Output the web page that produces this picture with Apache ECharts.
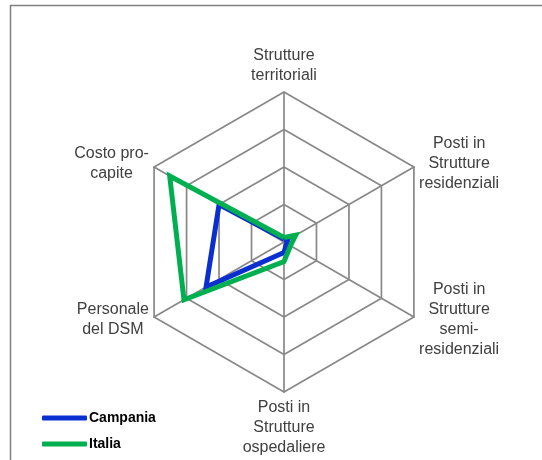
<!DOCTYPE html>
<html>
<head>
<meta charset="utf-8">
<script src="https://cdn.jsdelivr.net/npm/echarts@6/dist/echarts.min.js"></script>
<style>
  html, body { margin: 0; padding: 0; background: #fff; }
  #chart { width: 542px; height: 460px; }
</style>
</head>
<body>
<div id="chart"></div>
<script>
// assi del radar (ordine antiorario, partendo dall'alto)
var indicatori = [
  'Strutture\nterritoriali',
  'Costo pro-\ncapite',
  'Personale\ndel DSM',
  'Posti in\nStrutture\nospedaliere',
  'Posti in\nStrutture\nsemi-\nresidenziali',
  'Posti in\nStrutture\nresidenziali'
];
var valoreMax = 1;
var campania = [0.02, 0.50, 0.60, 0.07, 0.02, 0.03];
var italia = [0.03, 0.88, 0.77, 0.13, 0.05, 0.09];

var myChart = echarts.init(document.getElementById('chart'));

var option = {
  animation: false,
  graphic: [{
    // cornice del grafico (bordo sup. e sinistro visibili)
    type: 'rect',
    left: 8, top: 3,
    shape: { width: 600, height: 500 },
    style: { fill: 'none', stroke: '#808080', lineWidth: 1.5 }
  }],
  legend: {
    orient: 'vertical',
    left: 37,
    top: 406,
    itemWidth: 45,
    itemHeight: 5,
    itemGap: 12,
    icon: 'roundRect',
    textStyle: { fontFamily: 'Liberation Sans', fontWeight: 'bold', fontSize: 14, color: '#000', padding: [0, 0, 0, -3] },
    data: ['Campania', 'Italia']
  },
  radar: {
    center: [284, 242],
    radius: 150,
    shape: 'polygon',
    splitNumber: 4,
    startAngle: 90,
    axisNameGap: 6,
    indicator: indicatori.map(function (n) { return { name: n, min: 0, max: valoreMax }; }),
    axisName: {
      color: '#404040',
      fontFamily: 'Liberation Sans',
      fontSize: 16,
      lineHeight: 20,
      formatter: function (v) {
        return v.split('\n').map(function (l) { return '{c|' + l + '}'; }).join('\n');
      },
      rich: {
        c: { align: 'center', color: '#404040', fontFamily: 'Liberation Sans', fontSize: 16, lineHeight: 20 }
      }
    },
    splitArea: { show: false },
    splitLine: { lineStyle: { color: '#888888', width: 1.7 } },
    axisLine: { lineStyle: { color: '#888888', width: 1.7 } },
    axisLabel: { show: false },
    axisTick: { show: false }
  },
  series: [{
    type: 'radar',
    symbol: 'none',
    data: [
      { name: 'Campania', value: campania, itemStyle: { color: '#0a2fd0' }, lineStyle: { color: '#0a2fd0', width: 5, join: 'miter' } },
      { name: 'Italia', value: italia, itemStyle: { color: '#00b050' }, lineStyle: { color: '#00b050', width: 5, join: 'miter' } }
    ]
  }]
};

myChart.setOption(option);
</script>
</body>
</html>
